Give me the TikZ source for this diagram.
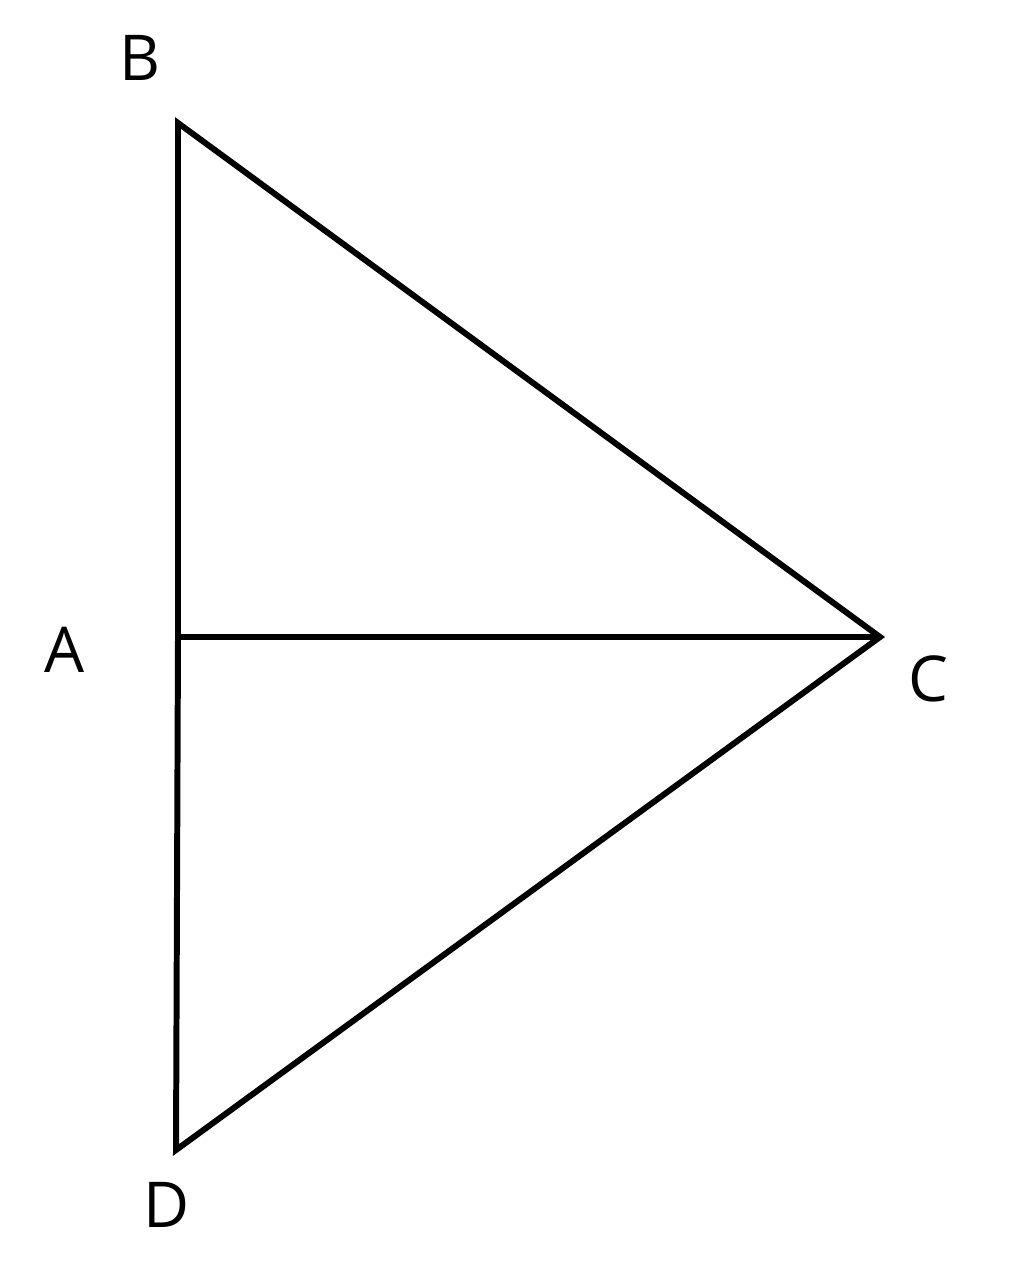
\documentclass[tikz,border=0pt]{standalone}
\usepackage{fontspec}
\setmainfont{Open Sans}
\begin{document}
\begin{tikzpicture}[x=0.02cm,y=-0.02cm,
  edge/.style={line width=3.4pt,line join=miter},
  lbl/.style={font=\fontsize{36}{40}\selectfont,inner sep=0pt}]
\useasboundingbox (0,0) rectangle (1024,1261);
\coordinate (B) at (178,123);
\coordinate (A) at (178,637);
\coordinate (C) at (880,637);
\coordinate (D) at (176,1150);
\draw[edge] (A) -- (B) -- (C) -- (D) -- (A);
\draw[edge] (A) -- (C);
\node[lbl] (lB) at (140,58) {B};
\node[lbl] (lA) at (65,650) {A};
\node[lbl] (lC) at (928,679) {C};
\node[lbl] (lD) at (167,1205) {D};
\end{tikzpicture}
\end{document}
